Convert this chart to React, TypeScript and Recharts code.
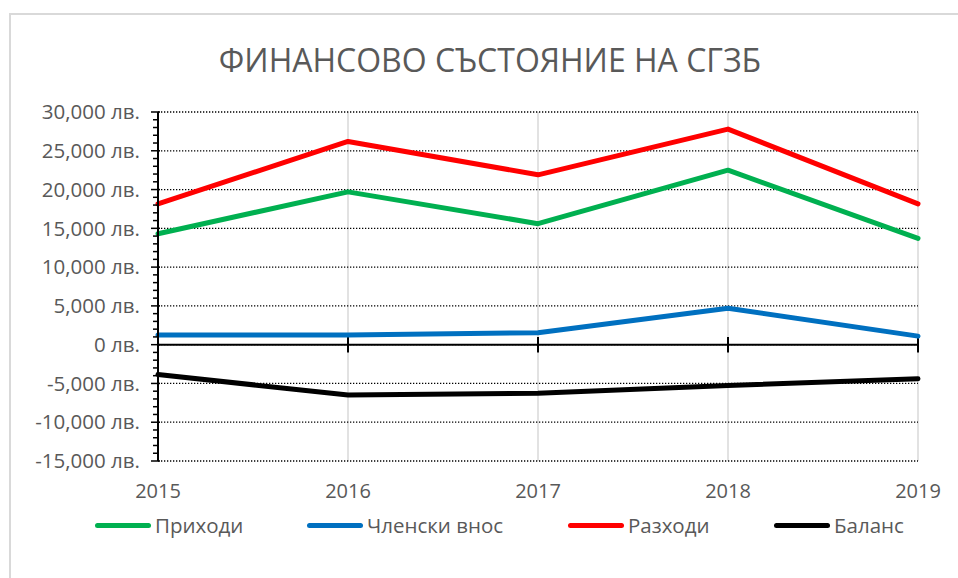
import React from "react";
import { CartesianGrid, Line, LineChart, ReferenceLine, XAxis, YAxis } from "recharts";

const years = ["2015", "2016", "2017", "2018", "2019"];
const income = [14300, 19700, 15600, 22500, 13700];
const membership = [1250, 1250, 1550, 4700, 1100];
const expenses = [18150, 26200, 21900, 27800, 18150];
const balance = [-3850, -6500, -6250, -5250, -4400];

const majorTicks = [-15000, -10000, -5000, 0, 5000, 10000, 15000, 20000, 25000, 30000];
const minorTicks: number[] = [];
for (let v = -15000; v <= 30000; v += 1000) minorTicks.push(v);

const series = [
  { key: "income", name: "Приходи", color: "#00B050", left: 95 },
  { key: "membership", name: "Членски внос", color: "#0070C0", left: 307 },
  { key: "expenses", name: "Разходи", color: "#FF0000", left: 568 },
  { key: "balance", name: "Баланс", color: "#000000", left: 774 },
];

const data = years.map((year, i) => ({
  year,
  income: income[i],
  membership: membership[i],
  expenses: expenses[i],
  balance: balance[i],
}));

const FONT = "'Open Sans', sans-serif";
const TEXT = "#595959";

const fmt = (v: number) => `${v.toLocaleString("en-US")} лв.`;

const YTick = (props: any) => {
  const { x, y, payload } = props;
  const major = payload.value % 5000 === 0;
  return (
    <g>
      <line x1={major ? x - 7 : x - 5} x2={major ? x + 2 : x} y1={y} y2={y} stroke="#000" strokeWidth={1.5} />
      {major && (
        <text x={x - 18} y={y} dy="0.35em" textAnchor="end" fill={TEXT} fontSize={20.5} fontFamily={FONT}>
          {fmt(payload.value)}
        </text>
      )}
    </g>
  );
};

const App = () => {
  return (
    <div
      style={{
        position: "absolute",
        left: 0,
        top: 0,
        width: 958,
        height: 578,
        overflow: "hidden",
        background: "#fff",
        fontFamily: FONT,
      }}
    >
      <div
        style={{
          position: "absolute",
          left: 9,
          top: 13,
          width: 980,
          height: 600,
          borderTop: "2px solid #d9d9d9",
          borderLeft: "2px solid #d9d9d9",
        }}
      />
      <div
        style={{
          position: "absolute",
          left: 0,
          width: 980,
          top: 39,
          textAlign: "center",
          fontSize: 32,
          color: TEXT,
          lineHeight: "42px",
        }}
      >
        ФИНАНСОВО СЪСТОЯНИЕ НА СГЗБ
      </div>
      <div style={{ position: "absolute", left: 0, top: 0 }}>
        <LineChart width={958} height={578} data={data} margin={{ top: 112, right: 40, left: 8, bottom: 0 }}>
          <CartesianGrid horizontal={false} stroke="#d9d9d9" strokeWidth={1.5} />
          <CartesianGrid
            vertical={false}
            horizontalValues={majorTicks}
            stroke="#000"
            strokeWidth={1.3}
            strokeDasharray="1.3 1.7"
          />
          <XAxis
            dataKey="year"
            axisLine={false}
            tickLine={false}
            tickSize={0}
            tickMargin={23}
            height={117}
            interval={0}
            tick={{ fill: TEXT, fontSize: 20, fontFamily: FONT }}
          />
          <YAxis
            width={150}
            domain={[-15000, 30000]}
            ticks={minorTicks}
            interval={0}
            tickSize={0}
            tickMargin={0}
            tickLine={false}
            axisLine={{ stroke: "#000", strokeWidth: 2 }}
            tick={<YTick />}
          />
          <ReferenceLine y={0} stroke="#000" strokeWidth={2} />
          {years.map((yr) => (
            <ReferenceLine
              key={yr}
              segment={[
                { x: yr, y: -1000 },
                { x: yr, y: 1000 },
              ]}
              stroke="#000"
              strokeWidth={2}
            />
          ))}
          {series.map((s) => (
            <Line
              key={s.key}
              type="linear"
              dataKey={s.key}
              name={s.name}
              stroke={s.color}
              strokeWidth={5}
              strokeLinecap="round"
              strokeLinejoin="round"
              dot={false}
              activeDot={false}
              isAnimationActive={false}
            />
          ))}
        </LineChart>
      </div>
      {series.map((s) => (
        <div
          key={s.key}
          style={{
            position: "absolute",
            left: s.left,
            top: 510,
            display: "flex",
            alignItems: "center",
            fontSize: 20.5,
            color: TEXT,
            lineHeight: "30px",
            whiteSpace: "nowrap",
          }}
        >
          <div style={{ width: 56, height: 5, borderRadius: 3, background: s.color, marginRight: 4 }} />
          <span>{s.name}</span>
        </div>
      ))}
    </div>
  );
};

export default App;
